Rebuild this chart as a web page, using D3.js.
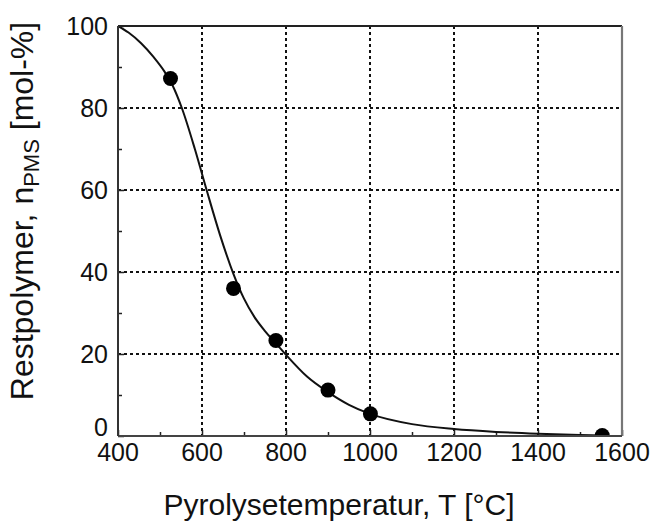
<!DOCTYPE html>
<html><head><meta charset="utf-8">
<script src="https://cdn.jsdelivr.net/npm/d3@7"></script>
<style>body{margin:0;background:#fff}svg{display:block}text{font-family:Arial,"Liberation Sans",sans-serif;fill:#111}</style>
</head><body><svg id="c" width="666" height="522"></svg>
<script>
// Measured points
const measT = [525, 675, 776, 900, 1001, 1553];
const measN = [87.2, 36.0, 23.3, 11.2, 5.4, 0.1];
// Fitted curve
const fitT = [400, 425, 455, 485, 510, 530, 552, 583, 611, 643, 675, 700, 725, 750, 775, 800, 850, 900, 950, 1000, 1100, 1200, 1300, 1400, 1500, 1560];
const fitN = [100, 98.4, 95.8, 92.4, 89, 85.5, 80, 70, 60, 49, 39.5, 33.5, 29, 25.6, 22.7, 19.8, 14.5, 10.7, 7.6, 5.4, 2.9, 1.7, 1.0, 0.55, 0.25, 0.12];
const xTicks = [400, 600, 800, 1000, 1200, 1400, 1600];
const xMinor = [500, 700, 900, 1100, 1300, 1500];
const yTicks = [0, 20, 40, 60, 80, 100];
const yMinor = [10, 30, 50, 70, 90];

const L = 118, T = 26, W = 504, H = 410;
const svg = d3.select("#c");
const x = d3.scaleLinear().domain([400, 1600]).range([L, L + W]);
const y = d3.scaleLinear().domain([0, 100]).range([T + H, T]);

svg.append("clipPath").attr("id", "clip").append("rect")
  .attr("x", L).attr("y", T).attr("width", W).attr("height", H);

// grid
const g = svg.append("g").attr("stroke", "#111").attr("stroke-width", 2).attr("stroke-dasharray", "3,3");
g.selectAll(".vx").data(xTicks.slice(1, -1)).join("line")
  .attr("x1", d => x(d)).attr("x2", d => x(d)).attr("y1", T).attr("y2", T + H);
g.selectAll(".hy").data(yTicks.slice(1, -1)).join("line")
  .attr("y1", d => y(d)).attr("y2", d => y(d)).attr("x1", L).attr("x2", L + W);

// axes with inward ticks
const xAxis = svg.append("g").attr("transform", `translate(0,${T + H})`)
  .call(d3.axisBottom(x).tickValues(xTicks).tickSize(-6).tickFormat(""));
const xAxisMinor = svg.append("g").attr("transform", `translate(0,${T + H})`)
  .call(d3.axisBottom(x).tickValues(xMinor).tickSize(-4).tickFormat(""));
const yAxis = svg.append("g").attr("transform", `translate(${L},0)`)
  .call(d3.axisLeft(y).tickValues(yTicks).tickSize(-6).tickFormat(""));
const yAxisMinor = svg.append("g").attr("transform", `translate(${L},0)`)
  .call(d3.axisLeft(y).tickValues(yMinor).tickSize(-4).tickFormat(""));
[xAxis, xAxisMinor, yAxis, yAxisMinor].forEach(a => {
  a.select(".domain").remove();
  a.selectAll("line").attr("stroke", "#222").attr("stroke-width", 1.5);
});

// tick labels
svg.append("g").selectAll("text").data(xTicks).join("text")
  .attr("x", d => x(d)).attr("y", 461).attr("text-anchor", "middle")
  .attr("font-size", 25).text(d => d);
svg.append("g").selectAll("text").data(yTicks).join("text")
  .attr("x", 108).attr("y", d => d === 0 ? y(d) - 9 : y(d)).attr("dy", "0.35em").attr("text-anchor", "end")
  .attr("font-size", 25).text(d => d);

// curve
const pts = fitT.map((t, i) => [t, fitN[i]]);
svg.append("path").datum(pts).attr("clip-path", "url(#clip)")
  .attr("fill", "none").attr("stroke", "#111").attr("stroke-width", 2)
  .attr("d", d3.line().x(d => x(d[0])).y(d => y(d[1])).curve(d3.curveMonotoneX));

// markers
svg.append("g").attr("clip-path", "url(#clip)").selectAll("circle")
  .data(measT.map((t, i) => [t, measN[i]])).join("circle")
  .attr("cx", d => x(d[0])).attr("cy", d => y(d[1])).attr("r", 7.5).attr("fill", "#000");

// frame
svg.append("line").attr("x1", L).attr("x2", L + W).attr("y1", T).attr("y2", T).attr("stroke", "#222").attr("stroke-width", 1.8);
svg.append("line").attr("x1", L + W).attr("x2", L + W).attr("y1", T).attr("y2", T + H).attr("stroke", "#777").attr("stroke-width", 2.2);
svg.append("line").attr("x1", L).attr("x2", L + W).attr("y1", T + H).attr("y2", T + H).attr("stroke", "#444").attr("stroke-width", 2.2);
svg.append("line").attr("x1", L).attr("x2", L).attr("y1", T).attr("y2", T + H).attr("stroke", "#333").attr("stroke-width", 2);

// axis titles
svg.append("text").attr("x", 339).attr("y", 515).attr("text-anchor", "middle")
  .attr("font-size", 30).text("Pyrolysetemperatur, T [°C]");
const yt = svg.append("text").attr("transform", "translate(33,211) rotate(-90)")
  .attr("text-anchor", "middle").attr("font-size", 32);
yt.append("tspan").text("Restpolymer, n");
yt.append("tspan").attr("font-size", 22).attr("dy", 6).text("PMS");
yt.append("tspan").attr("dy", -6).text(" [mol-%]");
</script></body></html>
